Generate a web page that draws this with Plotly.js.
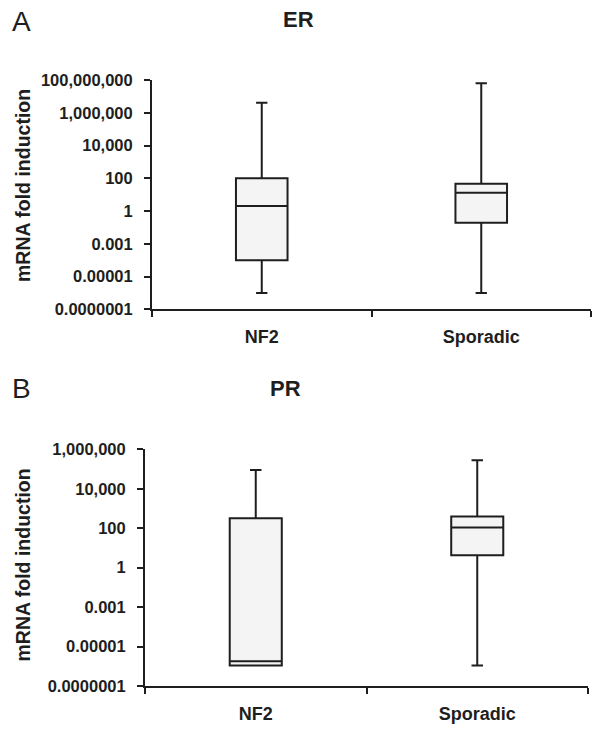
<!DOCTYPE html>
<html>
<head>
<meta charset="utf-8">
<script src="https://cdn.plot.ly/plotly-3.0.1.min.js"></script>
<style>
  body { margin: 0; background: #fff; }
  #chart { width: 602px; height: 737px; }
</style>
</head>
<body>
<div id="chart"></div>
<script>
const groups = ['NF2', 'Sporadic']

// ER (panel A), values read against the drawn tick marks
const erLower = [1e-5, 1e-5]
const erQ1 = [1e-3, 0.19]
const erMedian = [2.0, 13]
const erQ3 = [100, 47]
const erUpper = [4.1e6, 6.3e7]

// PR (panel B)
const prLower = [1.1e-5, 1.1e-5]
const prQ1 = [1.1e-5, 4.2]
const prMedian = [1.8e-5, 110]
const prQ3 = [320, 390]
const prUpper = [9e4, 2.8e5]

const erTickVals = [1e-6, 1e-4, 1e-2, 1, 1e2, 1e4, 1e6, 1e8]
const erTickText = ['0.0000001', '0.00001', '0.001', '1', '100', '10,000', '1,000,000', '100,000,000']
const prTickVals = [1e-6, 1e-4, 1e-2, 1, 1e2, 1e4, 1e6]
const prTickText = ['0.0000001', '0.00001', '0.001', '1', '100', '10,000', '1,000,000']

const W = 602, H = 737
const px = x => x / W
const py = y => 1 - y / H

const FONT = 'Arial, "Liberation Sans", sans-serif'
const INK = '#1e1e1e'

const boxStyle = {
  type: 'box',
  x: groups,
  boxpoints: false,
  fillcolor: '#f4f4f4',
  line: { color: INK, width: 2 },
  width: 0.235,
  whiskerwidth: 0.22,
  showlegend: false,
  hoverinfo: 'skip'
}

const data = [
  { ...boxStyle, q1: erQ1, median: erMedian, q3: erQ3, lowerfence: erLower, upperfence: erUpper, xaxis: 'x', yaxis: 'y' },
  { ...boxStyle, q1: prQ1, median: prMedian, q3: prQ3, lowerfence: prLower, upperfence: prUpper, xaxis: 'x2', yaxis: 'y2' }
]

const xAxisBase = {
  type: 'category',
  range: [-0.5, 1.5],
  showline: true,
  linecolor: INK,
  linewidth: 2,
  ticks: 'outside',
  tickson: 'boundaries',
  ticklen: 6,
  tickwidth: 2,
  tickcolor: INK,
  showgrid: false,
  zeroline: false,
  automargin: false,
  ticklabelstandoff: 10,
  tickfont: { family: FONT, size: 18, color: INK, weight: 'bold' }
}

const yAxisBase = {
  type: 'log',
  showline: true,
  linecolor: INK,
  linewidth: 2,
  ticks: 'outside',
  ticklen: 6,
  tickwidth: 2,
  tickcolor: INK,
  showgrid: false,
  zeroline: false,
  automargin: false,
  ticklabelstandoff: 8,
  tickfont: { family: FONT, size: 16.5, color: INK, weight: 'bold' }
}

const note = (text, x, y, size, weight, angle) => ({
  text: text,
  xref: 'paper', yref: 'paper',
  x: px(x), y: py(y),
  xanchor: 'center', yanchor: 'middle',
  showarrow: false,
  textangle: angle || 0,
  font: { family: FONT, size: size, color: INK, weight: weight }
})

const layout = {
  width: W,
  height: H,
  margin: { l: 0, r: 0, t: 0, b: 0 },
  paper_bgcolor: '#fff',
  plot_bgcolor: '#fff',
  xaxis: { ...xAxisBase, domain: [px(152), px(591)], anchor: 'y' },
  yaxis: { ...yAxisBase, domain: [py(309.3), py(80)], anchor: 'x', range: [-6, 8], tickvals: erTickVals, ticktext: erTickText },
  xaxis2: { ...xAxisBase, domain: [px(145), px(588)], anchor: 'y2' },
  yaxis2: { ...yAxisBase, domain: [py(686), py(449.3)], anchor: 'x2', range: [-6, 6], tickvals: prTickVals, ticktext: prTickText },
  annotations: [
    note('A', 21, 22, 28, 'normal'),
    note('ER', 298, 20, 22, 'bold'),
    note('mRNA fold induction', 22.5, 185.5, 19.5, 'bold', -90),
    note('B', 21, 388, 28, 'normal'),
    note('PR', 285.5, 388, 22, 'bold'),
    note('mRNA fold induction', 22.5, 565, 19.5, 'bold', -90)
  ]
}

Plotly.newPlot('chart', data, layout, { staticPlot: true, displayModeBar: false })
</script>
</body>
</html>
